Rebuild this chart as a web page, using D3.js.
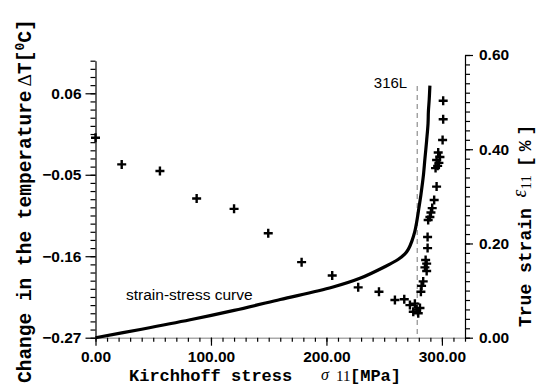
<!DOCTYPE html>
<html>
<head>
<meta charset="utf-8">
<script src="https://cdn.jsdelivr.net/npm/d3@7"></script>
<style>
  html, body { margin: 0; padding: 0; background: #fff; }
  svg { display: block; }
</style>
</head>
<body>
<svg id="chart" width="538" height="392"></svg>
<script>
// ---- data ----
const stressTicks = [0, 100, 200, 300];
const tempTicks = [-0.27, -0.16, -0.05, 0.06];
const strainTicks = [0, 0.2, 0.4, 0.6];

// strain-stress curve (stress MPa, strain %)
const curveStress = [0, 40, 82, 120, 160, 205, 229, 250, 262, 268, 271, 274, 276.5, 278.2, 280, 281.8, 283, 284, 285.3, 286.8, 288, 288.3, 289, 289.6];
const curveStrain = [0, 0.018, 0.038, 0.058, 0.081, 0.107, 0.126, 0.150, 0.166, 0.178, 0.188, 0.205, 0.225, 0.246, 0.274, 0.303, 0.325, 0.345, 0.380, 0.419, 0.455, 0.480, 0.505, 0.535];

// temperature change measurements (stress MPa, dT)
const tempStress = [0, 22.7, 55.8, 87.6, 120, 149.6, 178.5, 205, 227.5, 245.5, 259.3, 267.4, 272.3, 275.2, 276.6, 278.1, 279.5, 281.0, 281.8, 282.4, 283.8, 285.3, 285.9, 286.8, 286.8, 287.6, 287.6, 288.1, 289.6, 290.5, 291.6, 293.3, 295.4, 294.5, 296.3, 297.4, 295.4, 298.3, 296.8, 300.6, 301.1, 301.1];
const tempDelta = [0.000, -0.036, -0.045, -0.082, -0.096, -0.129, -0.168, -0.186, -0.202, -0.208, -0.219, -0.218, -0.226, -0.235, -0.224, -0.232, -0.237, -0.230, -0.208, -0.200, -0.194, -0.175, -0.165, -0.170, -0.180, -0.149, -0.134, -0.111, -0.107, -0.101, -0.095, -0.084, -0.066, -0.041, -0.038, -0.034, -0.030, -0.026, -0.020, -0.003, 0.025, 0.050];

const materialLine = 278.6;  // 316L marker
const materialLabel = "316L";
const curveLabel = "strain-stress curve";

// ---- scales ----
const svg = d3.select("#chart");
const x = d3.scaleLinear().domain([0, 320]).range([95.5, 465]);
const yT = d3.scaleLinear().domain([-0.27, 0.104]).range([337.7, 60.7]);
const yS = d3.scaleLinear().domain([0, 0.6]).range([337.7, 55]);

const numFont = "'Liberation Sans', Arial, sans-serif";
const monoFont = "'Liberation Mono', 'Courier New', monospace";
const serifFont = "'Liberation Serif', 'Times New Roman', serif";

function styleAxis(g) {
  g.attr("font-family", numFont).attr("font-size", 15.5).attr("font-weight", "bold");
  g.selectAll("text").attr("fill", "#000");
  g.selectAll("line").attr("stroke", "#000").attr("stroke-width", 1.2);
}

// minor ticks
const minorX = d3.range(0, 33).map(i => i * 10);
const minorT = d3.range(0, 35).map(i => +(-0.27 + i * 0.011).toFixed(3));
const minorS = d3.range(0, 31).map(i => +(i * 0.02).toFixed(2));

// X axis
const gxMinor = svg.append("g").attr("transform", `translate(0,${yT(-0.27)})`)
  .call(d3.axisBottom(x).tickValues(minorX).tickSize(4).tickSizeOuter(0).tickFormat(""));
gxMinor.select(".domain").attr("stroke", "#aaa").attr("stroke-width", 1.5);
gxMinor.selectAll("line").attr("stroke", "#000").attr("stroke-width", 1.2);
const gx = svg.append("g").attr("transform", `translate(0,${yT(-0.27)})`)
  .call(d3.axisBottom(x).tickValues(stressTicks).tickSize(8).tickSizeOuter(0).tickPadding(5).tickFormat(d3.format(".2f")));
gx.select(".domain").remove();
styleAxis(gx);

// left axis
const gyMinor = svg.append("g").attr("transform", `translate(${x(0)},0)`)
  .call(d3.axisLeft(yT).tickValues(minorT).tickSize(5).tickSizeOuter(0).tickFormat(""));
gyMinor.select(".domain").attr("stroke", "#000").attr("stroke-width", 1.2);
gyMinor.selectAll("line").attr("stroke", "#000").attr("stroke-width", 1.2);
const gy = svg.append("g").attr("transform", `translate(${x(0)},0)`)
  .call(d3.axisLeft(yT).tickValues(tempTicks).tickSize(10).tickSizeOuter(0).tickPadding(4).tickFormat(d3.format(".2f")));
gy.select(".domain").remove();
styleAxis(gy);

// right axis
const grMinor = svg.append("g").attr("transform", `translate(${x(320)},0)`)
  .call(d3.axisRight(yS).tickValues(minorS).tickSize(5).tickSizeOuter(0).tickFormat(""));
grMinor.select(".domain").attr("stroke", "#000").attr("stroke-width", 1.2);
grMinor.selectAll("line").attr("stroke", "#000").attr("stroke-width", 1.2);
const gr = svg.append("g").attr("transform", `translate(${x(320)},0)`)
  .call(d3.axisRight(yS).tickValues(strainTicks).tickSize(8).tickSizeOuter(0).tickPadding(6).tickFormat(d3.format(".2f")));
gr.select(".domain").remove();
styleAxis(gr);

// dashed 316L line
svg.append("line")
  .attr("x1", x(materialLine)).attr("x2", x(materialLine))
  .attr("y1", 86).attr("y2", yT(-0.27))
  .attr("stroke", "#777").attr("stroke-width", 1).attr("stroke-dasharray", "5,4");
svg.append("text").attr("x", x(materialLine) - 10).attr("y", 88)
  .attr("text-anchor", "end").attr("font-family", numFont).attr("font-size", 15)
  .text(materialLabel);

// strain-stress curve
const curvePts = curveStress.map((s, i) => [s, curveStrain[i]]);
svg.append("path").datum(curvePts)
  .attr("fill", "none").attr("stroke", "#000").attr("stroke-width", 3.2)
  .attr("stroke-linejoin", "round")
  .attr("d", d3.line().x(d => x(d[0])).y(d => yS(d[1])).curve(d3.curveCatmullRom.alpha(0.5)));

svg.append("text").attr("x", 126).attr("y", 300)
  .attr("font-family", numFont).attr("font-size", 15.5)
  .text(curveLabel);

// temperature crosses
const crossPts = tempStress.map((s, i) => [s, tempDelta[i]]);
svg.append("g").selectAll("path").data(crossPts).join("path")
  .attr("transform", d => `translate(${x(d[0])},${yT(d[1])})`)
  .attr("d", "M-4.5,0H4.5M0,-4.5V4.5")
  .attr("stroke", "#000").attr("stroke-width", 2.4).attr("fill", "none");

// x title
const xt = svg.append("text").attr("y", 381).attr("font-family", monoFont).attr("font-weight", "bold").attr("font-size", 17);
xt.append("tspan").attr("x", 129).text("Kirchhoff stress ");
xt.append("tspan").attr("x", 321).attr("dy", -1).attr("font-family", serifFont).attr("font-style", "italic").attr("font-weight", "normal").attr("font-size", 16).text("σ");
xt.append("tspan").attr("x", 336).attr("dy", 1).attr("font-family", serifFont).attr("font-weight", "normal").attr("font-size", 15).text("11");
xt.append("tspan").attr("x", 350).text("[MPa]");

// left title
const lt = svg.append("text").attr("transform", "translate(31,383) rotate(-90)")
  .attr("font-family", monoFont).attr("font-weight", "bold").attr("font-size", 19.5);
lt.append("tspan").text("Change in the temperature");
lt.append("tspan").attr("dx", 4).attr("font-family", serifFont).attr("font-weight", "normal").text("Δ");
lt.append("tspan").text("T[");
lt.append("tspan").attr("dy", -7).attr("font-size", 13).text("0");
lt.append("tspan").attr("dy", 7).text("C]");

// right title
const rt = svg.append("text").attr("transform", "translate(531,327) rotate(-90)")
  .attr("font-family", monoFont).attr("font-weight", "bold").attr("font-size", 18);
rt.append("tspan").text("True strain ");
rt.append("tspan").attr("dy", -5).attr("font-family", serifFont).attr("font-style", "italic").attr("font-weight", "normal").attr("font-size", 20).text("ε");
rt.append("tspan").attr("dy", 5).attr("font-family", serifFont).attr("font-weight", "normal").attr("font-size", 15).text("11");
rt.append("tspan").attr("dx", 8).attr("letter-spacing", 5).text("[%]");
</script>
</body>
</html>
